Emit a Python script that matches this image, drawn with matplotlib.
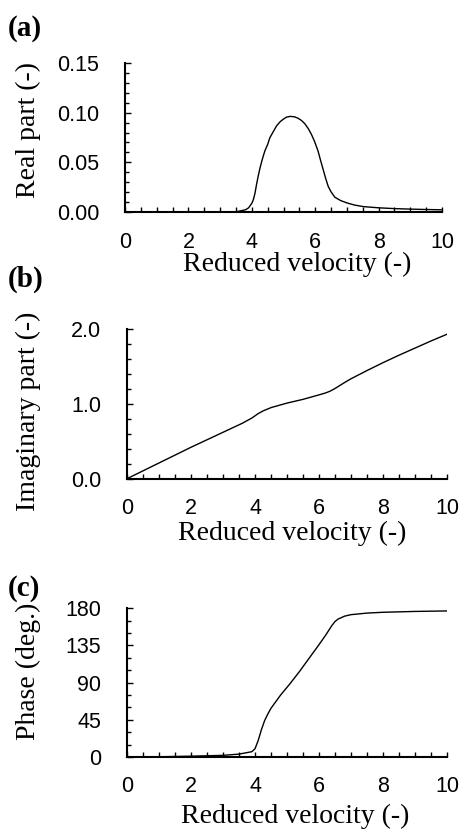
import matplotlib
matplotlib.use("Agg")
import matplotlib.pyplot as plt
from matplotlib.ticker import MultipleLocator, FormatStrFormatter

# Real part of the response vs reduced velocity
real_v = [0, 1, 2, 3, 3.5, 3.8, 3.9, 4.0, 4.05, 4.1, 4.15, 4.2, 4.26, 4.33, 4.41,
          4.5, 4.57, 4.68, 4.78, 4.9, 5.0, 5.1, 5.22, 5.35, 5.46, 5.57, 5.67,
          5.78, 5.88, 5.98, 6.09, 6.17, 6.25, 6.33, 6.41, 6.5, 6.62, 6.8, 7.0,
          7.25, 7.52, 8.0, 8.5, 9.0, 9.5, 10]
real_part = [0, 0, 0, 0.0002, 0.0005, 0.0025, 0.0045, 0.009, 0.0128, 0.019, 0.028,
             0.036, 0.0446, 0.053, 0.0614, 0.068, 0.0748, 0.081, 0.0866, 0.091,
             0.0935, 0.0955, 0.0962, 0.0957, 0.0943, 0.092, 0.0889, 0.084, 0.0782,
             0.071, 0.0614, 0.052, 0.043, 0.034, 0.026, 0.0205, 0.0151, 0.0118,
             0.0094, 0.0072, 0.0057, 0.0045, 0.0037, 0.0032, 0.0028, 0.0025]

# Imaginary part
imag_v = [0, 1, 2, 3, 3.6, 3.9, 4.1, 4.25, 4.5, 5.0, 5.5, 6.0, 6.2, 6.35, 6.5,
          6.65, 6.8, 7.0, 7.5, 8.0, 8.5, 9.0, 9.5, 10]
imag_part = [0, 0.21, 0.42, 0.62, 0.74, 0.81, 0.87, 0.905, 0.95, 1.01, 1.06, 1.12,
             1.145, 1.17, 1.205, 1.245, 1.285, 1.335, 1.445, 1.55, 1.65, 1.745,
             1.84, 1.93]

# Phase angle
phase_v = [0, 1, 2, 3, 3.5, 3.9, 4.0, 4.1, 4.2, 4.3, 4.4, 4.5, 4.65, 4.8, 5.1,
           5.4, 5.7, 6.0, 6.2, 6.4, 6.5, 6.6, 6.8, 7.0, 7.5, 8.0, 9.0, 10]
phase_deg = [0, 0.3, 1, 2, 3.5, 6.4, 10, 20, 33, 44, 52, 59, 67, 75, 89, 104,
             120, 136, 147, 159, 164, 167, 170.5, 172.3, 174.2, 175.2, 176.2,
             176.8]

x_label = "Reduced velocity (-)"
y_labels = ["Real part (-)", "Imaginary part (-)", "Phase (deg.)"]
panel_tags = ["(a)", "(b)", "(c)"]

SERIF = "Liberation Serif"
SANS = "Liberation Sans"

fig = plt.figure(figsize=(4.62, 8.35), dpi=100)

rects = [
    [125 / 462, (835 - 212.3) / 835, 317 / 462, 149.6 / 835],
    [127 / 462, (835 - 478.7) / 835, 320 / 462, 149.7 / 835],
    [127 / 462, (835 - 757.0) / 835, 320 / 462, 148.7 / 835],
]
series = [(real_v, real_part), (imag_v, imag_part), (phase_v, phase_deg)]
ylims = [(0, 0.15), (0, 2.0), (0, 180)]
ymajor = [0.05, 1.0, 45]
yminor = [0.01, 0.2, 15]
yfmt = ["%.2f", "%.1f", "%d"]
ylabel_pos = [(-0.306, 0.55), (-0.309, 0.45), (-0.309, 0.574)]
xlabel_pos = [(0.543, -0.392), (0.517, -0.407), (0.525, -0.443)]
tag_y = [1 - 36 / 835, 1 - 287 / 835, 1 - 596 / 835]

for i, ax_rect in enumerate(rects):
    ax = fig.add_axes(ax_rect)
    xv, yv = series[i]
    ax.plot(xv, yv, color="black", lw=1.0, solid_joinstyle="round")
    ax.set_xlim(0, 10)
    ax.set_ylim(*ylims[i])

    for side in ("top", "right"):
        ax.spines[side].set_visible(False)
    for side in ("left", "bottom"):
        ax.spines[side].set_linewidth(1.5)

    ax.xaxis.set_major_locator(MultipleLocator(2))
    ax.xaxis.set_minor_locator(MultipleLocator(0.5))
    ax.yaxis.set_major_locator(MultipleLocator(ymajor[i]))
    ax.yaxis.set_minor_locator(MultipleLocator(yminor[i]))
    ax.yaxis.set_major_formatter(FormatStrFormatter(yfmt[i]))

    ax.tick_params(axis="x", which="both", direction="in", length=3.3, width=1.0,
                   pad=14)
    ax.tick_params(axis="y", which="major", direction="in", length=4.5, width=1.0,
                   pad=18.5)
    ax.tick_params(axis="y", which="minor", direction="in", length=3.0, width=1.0)
    for lab in ax.get_xticklabels() + ax.get_yticklabels():
        lab.set_fontfamily(SANS)
        lab.set_fontsize(15.5)

    ax.set_xlabel(x_label, fontfamily=SERIF, fontsize=20)
    ax.xaxis.label.set_va("baseline")
    ax.xaxis.set_label_coords(*xlabel_pos[i])
    ax.set_ylabel(y_labels[i], fontfamily=SERIF, fontsize=20)
    ax.yaxis.label.set_va("center")
    ax.yaxis.set_label_coords(*ylabel_pos[i])

    fig.text(8 / 462, tag_y[i], panel_tags[i], fontfamily=SERIF, fontsize=21,
             fontweight="bold", ha="left", va="baseline")

fig.savefig("out.png", dpi=100)
